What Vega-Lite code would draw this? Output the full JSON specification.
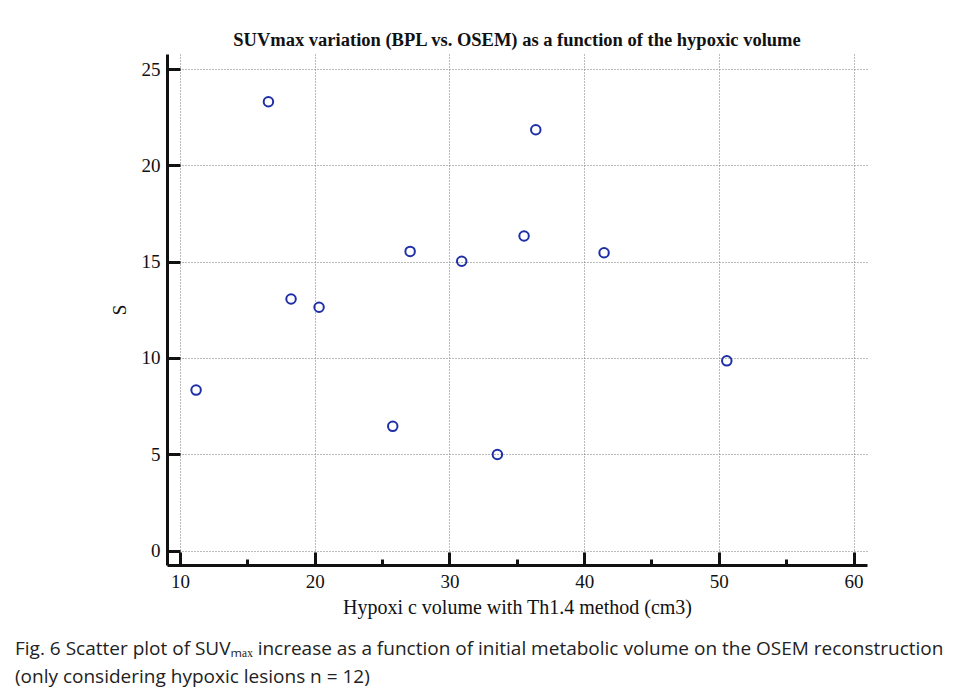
{
  "$schema": "https://vega.github.io/schema/vega-lite/v6.json",
  "background": "white",
  "padding": {"left": 15, "top": 30, "right": 5, "bottom": 5},
  "title": {
    "text": ["Fig. 6 Scatter plot of SUVₘₐₓ increase as a function of initial metabolic volume on the OSEM reconstruction", "(only considering hypoxic lesions n = 12)"],
    "orient": "bottom",
    "anchor": "start",
    "dx": -95,
    "font": "Open Sans",
    "fontSize": 19,
    "fontWeight": "normal",
    "color": "#222222",
    "lineHeight": 28,
    "offset": 23
  },
  "vconcat": [
    {
      "width": 700,
      "height": 511,
      "title": {
        "text": "SUVmax variation (BPL vs. OSEM) as a function of the hypoxic volume",
        "font": "Liberation Serif",
        "fontSize": 18.5,
        "fontWeight": "bold",
        "color": "#111111",
        "frame": "group",
        "offset": 5
      },
      "data": {
        "values": [
          {"volume": 16.56, "s": 23.30},
          {"volume": 36.41, "s": 21.85},
          {"volume": 27.08, "s": 15.53},
          {"volume": 30.91, "s": 15.02},
          {"volume": 35.54, "s": 16.33},
          {"volume": 18.24, "s": 13.06},
          {"volume": 20.32, "s": 12.63},
          {"volume": 11.19, "s": 8.33},
          {"volume": 25.79, "s": 6.45},
          {"volume": 33.56, "s": 4.99},
          {"volume": 50.59, "s": 9.85},
          {"volume": 41.48, "s": 15.46}
        ]
      },
      "mark": {"type": "point", "shape": "circle", "filled": false, "size": 90, "strokeWidth": 2, "color": "#1f2fa8", "opacity": 1},
      "encoding": {
        "x": {
          "field": "volume",
          "type": "quantitative",
          "scale": {"domain": [9.03, 61.0], "nice": false, "zero": false},
          "axis": {
            "title": "Hypoxi c volume with Th1.4 method (cm3)",
            "values": [10, 15, 20, 25, 30, 35, 40, 45, 50, 55, 60],
            "labelExpr": "datum.value % 10 === 0 ? datum.label : ''",
            "tickSize": {"condition": {"test": "datum.value % 10 === 0", "value": -13}, "value": -6},
            "tickWidth": 3,
            "tickColor": "#111111",
            "gridOpacity": {"condition": {"test": "datum.value % 10 === 0", "value": 1}, "value": 0},
            "gridDash": [1, 2],
            "gridColor": "#777777",
            "gridWidth": 1,
            "domainWidth": 3,
            "domainColor": "#111111",
            "labelFont": "Liberation Serif",
            "labelFontSize": 19,
            "labelColor": "#111111",
            "labelPadding": 20,
            "titleFont": "Liberation Serif",
            "titleFontSize": 20,
            "titleFontWeight": "normal",
            "titleColor": "#111111",
            "titlePadding": 6
          }
        },
        "y": {
          "field": "s",
          "type": "quantitative",
          "scale": {"domain": [-0.75, 25.78], "nice": false, "zero": false},
          "axis": {
            "title": "S",
            "values": [0, 5, 10, 15, 20, 25],
            "tickSize": -13,
            "tickWidth": 3,
            "tickColor": "#111111",
            "gridDash": [1, 2],
            "gridColor": "#777777",
            "gridWidth": 1,
            "domainWidth": 3,
            "domainColor": "#111111",
            "labelFont": "Liberation Serif",
            "labelFontSize": 19,
            "labelColor": "#111111",
            "labelPadding": 20,
            "titleFont": "Liberation Serif",
            "titleFontSize": 19,
            "titleFontWeight": "normal",
            "titleColor": "#111111",
            "titlePadding": 12
          }
        }
      }
    }
  ],
  "config": {"view": {"stroke": null}}
}
